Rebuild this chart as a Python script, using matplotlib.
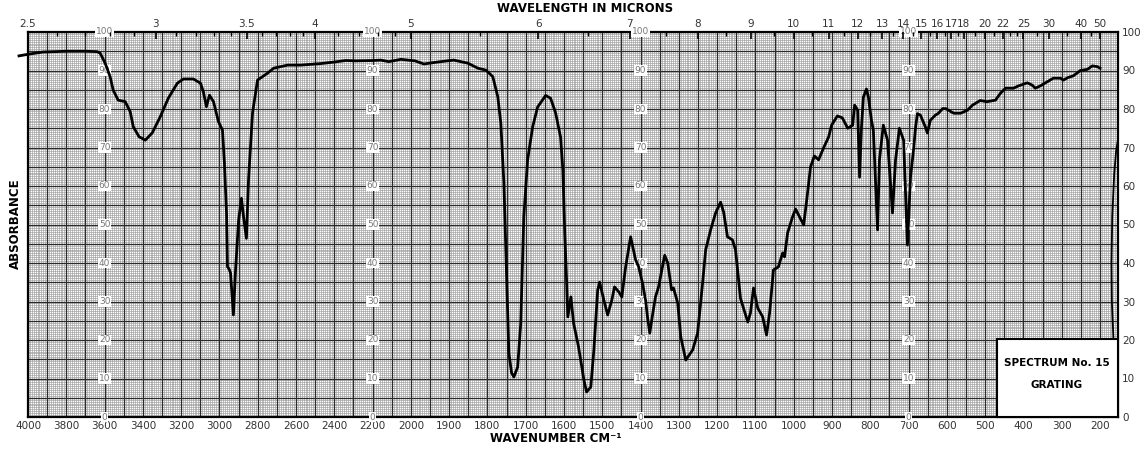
import numpy as np
import matplotlib
matplotlib.use("Agg")
import matplotlib.pyplot as plt
from matplotlib.patches import Rectangle

# spectrum trace (wavenumber in cm-1, percent scale)
wavenumber = [4047, 3990, 3921, 3800, 3700, 3639, 3623, 3597, 3571, 3555, 3529, 3492,
              3466, 3450, 3420, 3387, 3351, 3309, 3267, 3220, 3188, 3136, 3099, 3084,
              3068, 3052, 3031, 3005, 2984, 2974, 2963, 2958, 2950, 2942, 2927, 2916,
              2900, 2885, 2874, 2859, 2848, 2827, 2801, 2749, 2717, 2644, 2576, 2471,
              2400, 2340, 2288, 2194, 2157, 2115, 2052, 1989, 1966, 1930, 1888, 1851,
              1825, 1804, 1786, 1773, 1765, 1757, 1752, 1747, 1744, 1737, 1731, 1721,
              1713, 1705, 1695, 1682, 1669, 1648, 1635, 1622, 1609, 1603, 1598, 1593,
              1590, 1582, 1575, 1562, 1548, 1541, 1530, 1522, 1512, 1507, 1496, 1486,
              1475, 1468, 1457, 1449, 1439, 1426, 1413, 1405, 1395, 1387, 1382, 1376,
              1368, 1361, 1353, 1337, 1329, 1319, 1314, 1303, 1295, 1282, 1264, 1251,
              1238, 1230, 1217, 1204, 1191, 1183, 1173, 1160, 1152, 1139, 1120, 1113,
              1105, 1094, 1081, 1071, 1063, 1053, 1040, 1029, 1024, 1016, 1003, 995,
              985, 974, 966, 956, 946, 935, 922, 909, 901, 886, 873, 859, 846, 841,
              833, 828, 823, 818, 810, 805, 797, 792, 781, 776, 766, 755, 742, 734,
              724, 713, 708, 703, 695, 687, 682, 677, 669, 656, 651, 643, 630, 622,
              611, 603, 582, 564, 546, 533, 513, 495, 473, 460, 447, 426, 413, 390,
              377, 369, 356, 337, 322, 303, 296, 283, 270, 251, 233, 220, 207, 200]
transmittance = [93.8, 94.3, 94.8, 95.0, 95.0, 94.9, 94.5, 91.9, 88.4, 84.9, 82.3, 81.9,
                 79.3, 75.4, 72.8, 71.9, 73.8, 78.0, 82.8, 86.7, 87.8, 87.8, 86.7, 84.5,
                 80.6, 83.6, 81.9, 76.7, 74.5, 66.0, 53.0, 39.0, 38.5, 37.4, 26.5, 38.0,
                 51.0, 56.8, 52.0, 46.4, 61.6, 79.0, 87.5, 89.3, 90.6, 91.4, 91.4, 91.8,
                 92.2, 92.6, 92.5, 92.6, 92.7, 92.3, 92.9, 92.5, 91.7, 92.2, 92.7, 91.9,
                 90.6, 90.1, 88.4, 83.2, 76.3, 60.7, 43.4, 26.0, 16.6, 11.5, 10.4, 13.0,
                 24.4, 52.0, 66.8, 75.3, 80.5, 83.5, 82.8, 79.0, 72.7, 64.2, 47.8, 34.8,
                 26.0, 31.2, 24.4, 18.2, 9.6, 6.5, 7.8, 17.4, 33.0, 35.0, 30.4, 26.5,
                 30.4, 33.8, 32.5, 31.2, 39.0, 46.8, 40.8, 39.0, 34.8, 30.4, 26.0, 21.8,
                 27.0, 31.2, 33.8, 42.0, 40.0, 33.0, 33.5, 29.6, 20.8, 14.8, 17.4, 21.8,
                 34.8, 43.4, 48.6, 53.0, 55.8, 53.2, 46.8, 46.0, 43.4, 30.8, 24.7, 27.0,
                 33.5, 28.3, 26.0, 21.3, 27.0, 38.2, 39.0, 42.6, 41.6, 47.8, 52.0, 54.0,
                 52.0, 49.9, 56.4, 65.0, 67.8, 66.8, 69.9, 72.7, 75.8, 78.2, 77.7, 75.0,
                 75.8, 81.0, 79.7, 62.3, 75.3, 83.1, 85.2, 83.1, 77.1, 74.5, 48.6, 66.8,
                 75.8, 71.9, 53.0, 66.8, 75.0, 71.9, 58.0, 44.7, 62.3, 69.4, 75.0, 78.8,
                 78.4, 75.3, 73.8, 77.1, 78.4, 78.9, 80.1, 80.1, 78.9, 78.9, 79.7, 81.0,
                 82.2, 81.9, 82.3, 84.1, 85.4, 85.4, 86.0, 86.8, 86.2, 85.4, 86.0, 87.1,
                 88.0, 88.0, 87.5, 88.2, 88.6, 90.0, 90.3, 91.2, 91.0, 90.6]

# short separate trace at the far right edge
edge_wavenumber = [165, 169, 170, 168, 163, 158, 154]
edge_transmittance = [20.5, 30.0, 40.0, 52.0, 63.0, 69.0, 71.5]

bottom_ticks = list(range(4000, 2100, -200)) + list(range(2000, 100, -100))
micron_ticks = [2.5, 3, 3.5, 4, 5, 6, 7, 8, 9, 10, 11, 12, 13, 14, 15, 16, 17, 18,
                20, 22, 25, 30, 40, 50]
micron_minor = ([2.6, 2.7, 2.8, 2.9, 3.1, 3.2, 3.3, 3.4, 3.6, 3.7, 3.8, 3.9,
                 4.2, 4.4, 4.6, 4.8, 5.5, 6.5, 7.5, 8.5, 9.5, 10.5, 11.5,
                 12.5, 13.5, 14.5, 15.5, 16.5, 17.5, 19, 21, 23, 24, 27.5, 35, 45])
column_wavenumbers = [3600, 2200, 1400, 700]
percent_ticks = list(range(0, 101, 10))

X_LEFT, X_RIGHT = 4000, 153


def fwd(w):
    w = np.asarray(w, dtype=float)
    return np.where(w >= 2000, w / 2 + 1000, w)


def inv(u):
    u = np.asarray(u, dtype=float)
    return np.where(u >= 2000, (u - 1000) * 2, u)


fig = plt.figure(figsize=(11.41, 4.54), dpi=100)
ax = fig.add_axes([28 / 1141, 1 - 417 / 454, 1090 / 1141, 385 / 454])
ax.set_xscale("function", functions=(fwd, inv))
ax.set_xlim(X_LEFT, X_RIGHT)
ax.set_ylim(0, 100)

# chart paper grid
fine_x = np.concatenate([np.arange(4000, 2000, -10), np.arange(2000, 150, -5)])
bold_x = np.concatenate([np.arange(4000, 2000, -100), np.arange(2000, 150, -50)])
ax.vlines(fine_x, 0, 100, colors="#9c9c9c", lw=0.45, zorder=1)
for yv in np.arange(0, 100.5, 0.5):
    ax.axhline(yv, color="#9c9c9c", lw=0.45, zorder=1)
ax.vlines(bold_x, 0, 100, colors="#2b2b2b", lw=0.9, zorder=1.5)
for yv in range(0, 101, 5):
    ax.axhline(yv, color="#2b2b2b", lw=0.9, zorder=1.5)

# percent labels inside the chart
for wn in column_wavenumbers:
    for p in percent_ticks:
        ax.text(wn, p, str(p), fontsize=6.5, color="#777777", ha="center", va="center",
                zorder=5, bbox=dict(boxstyle="square,pad=0.08", fc="white", ec="none"))

ax.plot(wavenumber, transmittance, color="black", lw=2.0, zorder=6, clip_on=False,
        solid_joinstyle="round")
ax.plot(edge_wavenumber, edge_transmittance, color="black", lw=1.3, zorder=6)

for s in ax.spines.values():
    s.set_linewidth(1.6)
    s.set_color("black")

ax.set_xticks(bottom_ticks)
ax.set_xticklabels([str(t) for t in bottom_ticks])
ax.xaxis.set_minor_locator(matplotlib.ticker.NullLocator())
ax.tick_params(axis="x", length=0, pad=3, labelsize=7.5, labelcolor="#333333")
ax.yaxis.tick_right()
ax.set_yticks(percent_ticks)
ax.tick_params(axis="y", length=0, pad=3, labelsize=7.5, labelcolor="#333333")

# wavelength axis on top
ax_top = ax.twiny()
ax_top.set_xscale("function", functions=(fwd, inv))
ax_top.set_xlim(X_LEFT, X_RIGHT)
ax_top.set_xticks([1e4 / m for m in micron_ticks])
ax_top.set_xticklabels([("%g" % m) for m in micron_ticks])
ax_top.set_xticks([1e4 / m for m in micron_minor], minor=True)
ax_top.tick_params(axis="x", which="major", direction="in", length=5, width=1.2,
                   pad=2, labelsize=7.5, labelcolor="#333333")
ax_top.tick_params(axis="x", which="minor", direction="in", length=3, width=1.0)
for s in ax_top.spines.values():
    s.set_visible(False)

# spectrum label box
ax.add_patch(Rectangle((0.889, 0), 0.111, 0.203, transform=ax.transAxes, fc="white",
                       ec="black", lw=1.5, zorder=7, clip_on=False))
ax.text(0.944, 0.14, "SPECTRUM No. 15", transform=ax.transAxes, ha="center",
        va="center", fontsize=7.5, fontweight="bold", zorder=8)
ax.text(0.944, 0.083, "GRATING", transform=ax.transAxes, ha="center",
        va="center", fontsize=7.5, fontweight="bold", zorder=8)

fig.text(585 / 1141, 1 - 9 / 454, "WAVELENGTH IN MICRONS", ha="center", va="center",
         fontsize=8.5, fontweight="bold")
fig.text(556 / 1141, 1 - 438 / 454, "WAVENUMBER CM\u207b\u00b9", ha="center",
         va="center", fontsize=8.5, fontweight="bold")
fig.text(15 / 1141, 1 - 224 / 454, "ABSORBANCE", ha="center", va="center",
         rotation=90, fontsize=8.5, fontweight="bold")

fig.savefig("out.png", dpi=100)
